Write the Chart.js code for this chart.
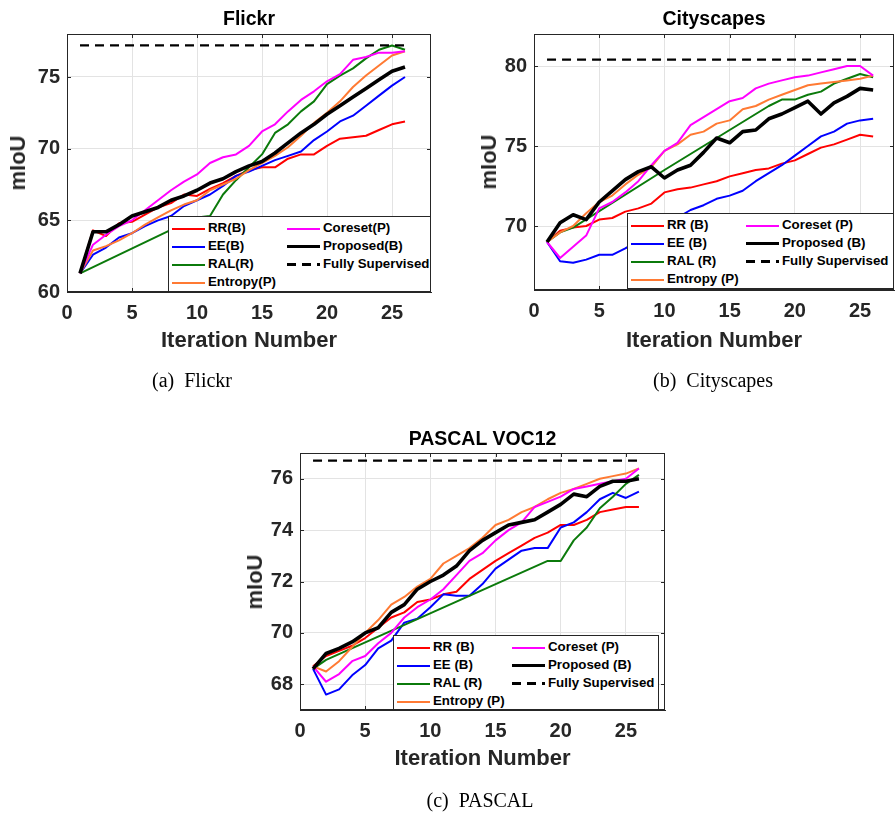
<!DOCTYPE html>
<html>
<head>
<meta charset="utf-8">
<script src="https://cdn.jsdelivr.net/npm/chart.js@4.4.0/dist/chart.umd.min.js"></script>
<style>
    body { margin: 0; background: #fff; width: 896px; height: 818px; position: relative; overflow: hidden;
           font-family: "Liberation Sans", Arial, sans-serif; }
    canvas { position: absolute; }
    .lbl { position: absolute; font-weight: bold; white-space: nowrap; transform: translate(-50%, -50%); color: #262626; }
    .ttl { position: absolute; font-weight: bold; white-space: nowrap; transform: translate(-50%, -50%); color: #000; font-size: 19.5px; }
    .ylab { transform: translate(-50%, -50%) rotate(-90deg); }
    .cap { position: absolute; white-space: pre; transform: translate(-50%, -50%); font-family: "Liberation Serif", "Times New Roman", serif; font-size: 20px; color: #000; }
    .legend { position: absolute; background: #fff; border: 1px solid #262626; box-sizing: border-box; z-index: 2; }
    .legend .s { position: absolute; }
    .legend .n { position: absolute; font-weight: bold; font-size: 13.3px; line-height: 16px; color: #000; white-space: nowrap; }
</style>
</head>
<body>
<script>
// ---- data ----
const iterations = [1, 2, 3, 4, 5, 6, 7, 8, 9, 10, 11, 12, 13, 14, 15, 16, 17, 18, 19, 20, 21, 22, 23, 24, 25, 26];
const xTicks = [0, 5, 10, 15, 20, 25];
const fsSpan = [1, 26];

const namesFlickr = ['RR(B)', 'EE(B)', 'RAL(R)', 'Entropy(P)', 'Coreset(P)', 'Proposed(B)', 'Fully Supervised'];
const namesOther = ['RR (B)', 'EE (B)', 'RAL (R)', 'Entropy (P)', 'Coreset (P)', 'Proposed (B)', 'Fully Supervised'];

// Flickr
const flickrYTicks = [60, 65, 70, 75];
const rrFlickr = [61.3, 64.3, 63.9, 64.8, 64.9, 65.4, 65.9, 66.2, 66.8, 66.7, 67.2, 67.6, 68.1, 68.5, 68.7, 68.7, 69.3, 69.6, 69.6, 70.2, 70.7, 70.8, 70.9, 71.3, 71.7, 71.9];
const eeFlickr = [61.3, 62.6, 63.1, 63.8, 64.1, 64.6, 65.0, 65.3, 66.0, 66.4, 66.8, 67.4, 68.1, 68.4, 68.8, 69.2, 69.5, 69.8, 70.6, 71.2, 71.9, 72.3, 73.0, 73.7, 74.4, 75.0];
const ralFlickr = [61.3, null, null, null, null, null, null, null, null, 65.2, 65.3, 66.8, 67.8, 68.7, 69.6, 71.1, 71.7, 72.6, 73.3, 74.5, 75.1, 75.6, 76.3, 76.9, 77.2, 76.9];
const entropyFlickr = [61.3, 62.9, 63.2, 63.6, 64.1, 64.7, 65.2, 65.7, 66.1, 66.4, 67.1, 67.5, 67.9, 68.5, 69.0, 69.5, 70.1, 70.9, 71.8, 72.5, 73.3, 74.3, 75.1, 75.8, 76.5, 76.8];
const coresetFlickr = [61.3, 63.3, 64.0, 64.6, 65.0, 65.7, 66.4, 67.1, 67.7, 68.2, 69.0, 69.4, 69.6, 70.2, 71.2, 71.7, 72.6, 73.4, 74.0, 74.7, 75.2, 76.2, 76.4, 76.7, 76.7, 76.8];
const proposedFlickr = [61.3, 64.2, 64.2, 64.7, 65.3, 65.6, 65.9, 66.4, 66.7, 67.1, 67.6, 67.9, 68.4, 68.8, 69.1, 69.7, 70.4, 71.1, 71.7, 72.4, 73.0, 73.6, 74.2, 74.8, 75.4, 75.7];
const fullyFlickr = 77.2;

// Cityscapes
const cityYTicks = [70, 75, 80];
const rrCity = [69.0, 69.7, 69.9, 70.0, 70.4, 70.5, 70.9, 71.1, 71.4, 72.1, 72.3, 72.4, 72.6, 72.8, 73.1, 73.3, 73.5, 73.6, 73.9, 74.1, 74.5, 74.9, 75.1, 75.4, 75.7, 75.6];
const eeCity = [69.0, 67.8, 67.7, 67.9, 68.2, 68.2, 68.6, null, null, null, null, 71.0, 71.3, 71.7, 71.9, 72.2, 72.8, 73.3, 73.8, 74.4, 75.0, 75.6, 75.9, 76.4, 76.6, 76.7];
const ralCity = [69.0, 69.6, 69.9, null, null, null, null, null, null, 73.5, null, null, null, null, null, null, null, 77.5, 77.9, 77.9, 78.2, 78.4, 78.9, 79.2, 79.5, 79.3];
const entropyCity = [69.0, 69.6, 70.0, 70.8, 71.5, 71.9, 72.6, 73.2, 73.7, 74.7, 75.1, 75.7, 75.9, 76.4, 76.6, 77.3, 77.5, 77.9, 78.2, 78.5, 78.8, 78.9, 79.0, 79.1, 79.2, 79.4];
const coresetCity = [69.0, 68.0, 68.7, 69.4, 71.1, 71.5, 72.1, 72.8, 73.8, 74.7, 75.2, 76.3, 76.8, 77.3, 77.8, 78.0, 78.6, 78.9, 79.1, 79.3, 79.4, 79.6, 79.8, 80.0, 80.0, 79.4];
const proposedCity = [69.0, 70.2, 70.7, 70.4, 71.5, 72.2, 72.9, 73.4, 73.7, 73.0, 73.5, 73.8, 74.6, 75.5, 75.2, 75.9, 76.0, 76.7, 77.0, 77.4, 77.8, 77.0, 77.7, 78.1, 78.6, 78.5];
const fullyCity = 80.4;

// PASCAL VOC12
const pascalYTicks = [68, 70, 72, 74, 76];
const rrPascal = [68.7, 69.1, 69.3, 69.5, 69.8, 70.2, 70.6, 70.8, 71.2, 71.3, 71.5, 71.6, 72.1, 72.45, 72.8, 73.1, 73.4, 73.7, 73.9, 74.2, 74.2, 74.4, 74.7, 74.8, 74.9, 74.9];
const eePascal = [68.6, 67.6, 67.8, 68.35, 68.75, 69.4, 69.7, 70.4, 70.55, 71.0, 71.5, 71.45, 71.45, 71.9, 72.5, 72.85, 73.2, 73.3, 73.3, 74.1, 74.3, 74.7, 75.2, 75.45, 75.25, 75.5];
const ralPascal = [68.6, 68.95, null, null, null, null, null, null, null, null, null, null, null, null, null, null, null, null, 72.8, 72.8, 73.6, 74.1, 74.85, 75.3, 75.8, 76.15];
const entropyPascal = [68.7, 68.5, 68.9, 69.45, 70.0, 70.5, 71.1, 71.4, 71.8, 72.1, 72.7, 73.0, 73.3, 73.7, 74.2, 74.4, 74.7, 74.9, 75.2, 75.45, 75.6, 75.8, 76.0, 76.1, 76.2, 76.4];
const coresetPascal = [68.7, 68.1, 68.4, 68.9, 69.1, 69.6, 70.0, 70.6, 71.0, 71.3, 71.7, 72.25, 72.8, 73.1, 73.6, 74.0, 74.3, 74.9, 75.1, 75.3, 75.6, 75.7, 75.8, 75.9, 76.0, 76.4];
const proposedPascal = [68.6, 69.2, 69.4, 69.65, 70.0, 70.2, 70.8, 71.1, 71.7, 72.0, 72.25, 72.6, 73.2, 73.6, 73.9, 74.2, 74.3, 74.4, 74.7, 75.0, 75.4, 75.3, 75.7, 75.9, 75.9, 76.0];
const fullyPascal = 76.7;

// ---- styles ----
const lineColors = ['#ff0000', '#0000ff', '#0b7a0b', '#ff7a33', '#ff00ff', '#000000', '#000000'];
const lineWidths = [2, 2, 2, 2, 2, 3.6, 2.2];
const axisColor = '#262626';
const gridColor = '#e3e3e3';

const panels = [
    {
        title: 'Flickr', caption: '(a)  Flickr', names: namesFlickr,
        series: [rrFlickr, eeFlickr, ralFlickr, entropyFlickr, coresetFlickr, proposedFlickr], fully: fullyFlickr,
        yMin: 60, yMax: 78, yTicks: flickrYTicks, xMax: 28,
        box: { left: 67, top: 34, right: 431, bottom: 292 },
        legend: { left: 168, top: 216, width: 263, height: 76 },
        titleY: 18, xLabelY: 340, yLabelX: 18, captionX: 192, captionY: 380
    },
    {
        title: 'Cityscapes', caption: '(b)  Cityscapes', names: namesOther,
        series: [rrCity, eeCity, ralCity, entropyCity, coresetCity, proposedCity], fully: fullyCity,
        yMin: 66, yMax: 82, yTicks: cityYTicks, xMax: 27.6,
        box: { left: 534, top: 34, right: 894, bottom: 290 },
        legend: { left: 627, top: 213, width: 267, height: 76 },
        titleY: 18, xLabelY: 340, yLabelX: 489, captionX: 713, captionY: 380
    },
    {
        title: 'PASCAL VOC12', caption: '(c)  PASCAL', names: namesOther,
        series: [rrPascal, eePascal, ralPascal, entropyPascal, coresetPascal, proposedPascal], fully: fullyPascal,
        yMin: 67, yMax: 77, yTicks: pascalYTicks, xMax: 28,
        box: { left: 300, top: 453, right: 665, bottom: 710 },
        legend: { left: 393, top: 635, width: 266, height: 75 },
        titleY: 438, xLabelY: 758, yLabelX: 255, captionX: 480, captionY: 800
    }
];

// MATLAB-style closed box with inward tick marks
const boxPlugin = {
    id: 'box',
    afterDraw(chart) {
        const { ctx, chartArea: a, scales } = chart;
        ctx.save();
        ctx.strokeStyle = axisColor;
        ctx.lineWidth = 1;
        ctx.strokeRect(a.left + 0.5, a.top + 0.5, a.right - a.left - 1, a.bottom - a.top - 1);
        ctx.beginPath();
        scales.x.ticks.forEach(t => {
            const px = Math.round(scales.x.getPixelForValue(t.value)) + 0.5;
            ctx.moveTo(px, a.bottom); ctx.lineTo(px, a.bottom - 4);
            ctx.moveTo(px, a.top); ctx.lineTo(px, a.top + 4);
        });
        scales.y.ticks.forEach(t => {
            const py = Math.round(scales.y.getPixelForValue(t.value)) + 0.5;
            ctx.moveTo(a.left, py); ctx.lineTo(a.left + 4, py);
            ctx.moveTo(a.right, py); ctx.lineTo(a.right - 4, py);
        });
        ctx.stroke();
        ctx.restore();
    }
};

function addText(cls, text, x, y, size) {
    const d = document.createElement('div');
    d.className = cls;
    d.textContent = text;
    d.style.left = x + 'px';
    d.style.top = y + 'px';
    if (size) d.style.fontSize = size + 'px';
    document.body.appendChild(d);
}

function addLegend(p) {
    const lg = document.createElement('div');
    lg.className = 'legend';
    Object.assign(lg.style, { left: p.legend.left + 'px', top: p.legend.top + 'px', width: p.legend.width + 'px', height: p.legend.height + 'px' });
    const rows = [11.5, 29.5, 47.5, 65.5];
    p.names.forEach((name, i) => {
        const col = i < 4 ? 0 : 1;
        const row = i < 4 ? i : i - 4;
        const x0 = col === 0 ? 3 : 118;
        const cy = rows[row];
        const s = document.createElement('div');
        s.className = 's';
        const h = lineWidths[i];
        Object.assign(s.style, { left: x0 + 'px', top: (cy - h / 2) + 'px', width: '33px', height: h + 'px' });
        if (i === 6) {
            s.style.background = `repeating-linear-gradient(90deg, ${lineColors[i]} 0 9px, transparent 9px 15px)`;
        } else {
            s.style.background = lineColors[i];
        }
        lg.appendChild(s);
        const n = document.createElement('div');
        n.className = 'n';
        n.textContent = name;
        Object.assign(n.style, { left: (x0 + 36) + 'px', top: (cy - 8.5) + 'px' });
        lg.appendChild(n);
    });
    document.body.appendChild(lg);
}

function drawPanel(p) {
    const padT = 6, padR = 6, yW = 60, xH = 40;
    const cv = document.createElement('canvas');
    cv.width = p.box.right - p.box.left + yW + padR;
    cv.height = p.box.bottom - p.box.top + padT + xH;
    cv.style.left = (p.box.left - yW) + 'px';
    cv.style.top = (p.box.top - padT) + 'px';
    document.body.appendChild(cv);

    const datasets = [{
        label: p.names[6],
        data: fsSpan.map(x => ({ x: x, y: p.fully })),
        borderColor: lineColors[6], borderWidth: lineWidths[6], borderDash: [9, 6]
    }];
    for (let i = 5; i >= 0; i--) {
        datasets.push({
            label: p.names[i],
            data: p.series[i],
            borderColor: lineColors[i], borderWidth: lineWidths[i],
            spanGaps: true
        });
    }

    // keep the plot box exactly where it is in the figure
    const noPad = s => { s.paddingTop = 0; s.paddingBottom = 0; s.paddingLeft = 0; s.paddingRight = 0; };

    const tickFont = { family: '"Liberation Sans", Arial, sans-serif', size: 20, weight: 'bold' };
    new Chart(cv.getContext('2d'), {
        type: 'line',
        data: { labels: iterations, datasets },
        options: {
            responsive: false, animation: false, devicePixelRatio: 1,
            layout: { padding: { top: padT, right: padR, left: 0, bottom: 0 } },
            plugins: { legend: { display: false }, tooltip: { enabled: false } },
            elements: { point: { radius: 0 }, line: { tension: 0, borderCapStyle: 'butt', borderJoinStyle: 'round' } },
            scales: {
                x: {
                    type: 'linear', min: 0, max: p.xMax,
                    afterFit: s => { s.height = xH; noPad(s); },
                    afterBuildTicks: s => { s.ticks = xTicks.map(v => ({ value: v })); },
                    grid: { color: gridColor, drawTicks: false },
                    border: { color: axisColor },
                    ticks: { font: tickFont, color: axisColor, padding: 9, maxRotation: 0 }
                },
                y: {
                    type: 'linear', min: p.yMin, max: p.yMax,
                    afterFit: s => { s.width = yW; noPad(s); },
                    afterBuildTicks: s => { s.ticks = p.yTicks.map(v => ({ value: v })); },
                    grid: { color: gridColor, drawTicks: false },
                    border: { color: axisColor },
                    ticks: { font: tickFont, color: axisColor, padding: 7 }
                }
            }
        },
        plugins: [boxPlugin]
    });

    const cx = (p.box.left + p.box.right) / 2;
    addText('ttl', p.title, cx, p.titleY);
    addText('lbl', 'Iteration Number', cx, p.xLabelY, 22);
    addText('lbl ylab', 'mIoU', p.yLabelX, (p.box.top + p.box.bottom) / 2, 22);
    addText('cap', p.caption, p.captionX, p.captionY);
    addLegend(p);
}

panels.forEach(drawPanel);
</script>
</body>
</html>
